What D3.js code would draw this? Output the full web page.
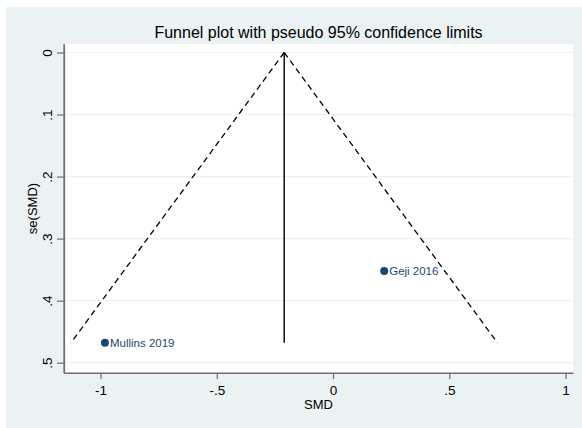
<!DOCTYPE html>
<html><head><meta charset="utf-8">
<script src="https://cdn.jsdelivr.net/npm/d3@7"></script>
<style>html,body{margin:0;padding:0;background:#fff;}svg{display:block;font-family:"Liberation Sans",Arial,sans-serif;}</style>
</head><body>
<script>
const studies = ["Mullins 2019", "Geji 2016"];
const smd = [-0.981, 0.22];
const seSmd = [0.468, 0.352];
const pooled = -0.21;
const seMax = 0.468;
const xTicks = [-1, -0.5, 0, 0.5, 1];
const xTickLabels = ["-1", "-.5", "0", ".5", "1"];
const yTicks = [0, 0.1, 0.2, 0.3, 0.4, 0.5];
const yTickLabels = ["0", ".1", ".2", ".3", ".4", ".5"];

const W = 582, H = 428;
const svg = d3.select("body").append("svg").attr("width", W).attr("height", H);
svg.append("rect").attr("x", 6).attr("y", 7).attr("width", W - 6).attr("height", H - 7).attr("fill", "#eaf2f3");

const L = 64, R = 573, T = 44, B = 373;
const x = d3.scaleLinear().domain([-1.157, 1.032]).range([L, R]);
const y = d3.scaleLinear().domain([-0.0137, 0.5166]).range([T, B]);

svg.append("rect").attr("x", L).attr("y", T).attr("width", R - L).attr("height", B - T).attr("fill", "#fff");

// grid
svg.append("g").selectAll("line").data(yTicks).join("line")
  .attr("x1", L).attr("x2", R).attr("y1", d => y(d)).attr("y2", d => y(d))
  .attr("stroke", "#eaf2f3").attr("stroke-width", 1.2);

// axes
const xAxis = svg.append("g").attr("transform", `translate(0,${B})`)
  .call(d3.axisBottom(x).tickValues(xTicks).tickFormat((d, i) => xTickLabels[i]).tickSize(6).tickPadding(6).tickSizeOuter(0));
const yAxis = svg.append("g").attr("transform", `translate(${L},0)`)
  .call(d3.axisLeft(y).tickValues(yTicks).tickFormat((d, i) => yTickLabels[i]).tickSize(7).tickPadding(4).tickSizeOuter(0));
[xAxis, yAxis].forEach(a => {
  a.select(".domain").attr("stroke", "#6e6e6e").attr("stroke-width", 1.2);
  a.selectAll(".tick line").attr("stroke", "#6e6e6e").attr("stroke-width", 1.2);
  a.selectAll("text").attr("font-size", 13.5).attr("fill", "#000").attr("font-family", "Liberation Sans, Arial, sans-serif");
});
svg.append("line").attr("x1", L).attr("x2", R).attr("y1", B).attr("y2", B).attr("stroke", "#6e6e6e").attr("stroke-width", 1.2);
svg.append("line").attr("x1", L).attr("x2", L).attr("y1", T).attr("y2", B).attr("stroke", "#6e6e6e").attr("stroke-width", 1.2);
yAxis.selectAll(".tick text").attr("transform", "rotate(-90)").attr("x", 0).attr("y", -12).attr("dy", "0").attr("text-anchor", "middle");

// funnel
const lines = svg.append("g");
lines.append("line").attr("x1", x(pooled)).attr("x2", x(pooled)).attr("y1", y(0)).attr("y2", y(seMax))
  .attr("stroke", "#000").attr("stroke-width", 1.4);
[-1, 1].forEach(s => {
  lines.append("line").attr("x1", x(pooled)).attr("y1", y(0))
    .attr("x2", x(pooled + s * 1.96 * seMax)).attr("y2", y(seMax))
    .attr("stroke", "#000").attr("stroke-width", 1.3).attr("stroke-dasharray", "6,4");
});

// points
const pts = svg.append("g");
studies.forEach((s, i) => {
  pts.append("circle").attr("cx", x(smd[i])).attr("cy", y(seSmd[i])).attr("r", 4).attr("fill", "#1a476f");
  pts.append("text").attr("x", x(smd[i]) + 5).attr("y", y(seSmd[i]) + 4).attr("font-size", 11.5)
    .attr("fill", "#1a476f").text(s);
});

// titles
svg.append("text").attr("x", (L + R) / 2).attr("y", 38).attr("text-anchor", "middle").attr("font-size", 16).attr("fill", "#000")
  .text("Funnel plot with pseudo 95% confidence limits");
svg.append("text").attr("x", (L + R) / 2).attr("y", 409).attr("text-anchor", "middle").attr("font-size", 13).attr("fill", "#000").text("SMD");
svg.append("text").attr("transform", `translate(37,${(T + B) / 2}) rotate(-90)`).attr("text-anchor", "middle").attr("font-size", 13).attr("fill", "#000").text("se(SMD)");
</script>
</body></html>
